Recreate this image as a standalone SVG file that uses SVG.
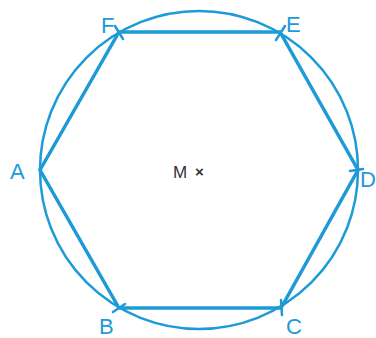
<svg xmlns="http://www.w3.org/2000/svg" width="376" height="338" viewBox="0 0 376 338">
<style>
.lbl{font-family:"Liberation Sans",Arial,sans-serif;font-size:22px;fill:#1e9ad8}
.c{fill:none;stroke:#1e9ad8;stroke-width:2.5}
.h{fill:none;stroke:#1e9ad8;stroke-width:3.5;stroke-linejoin:miter}
.t{stroke:#1e9ad8;stroke-width:2.5;stroke-linecap:round}
</style>
<rect width="376" height="338" fill="#ffffff"/>
<g id="circle"><circle class="c" cx="199" cy="170" r="159"/></g>
<g id="connectors">
<polygon class="h" points="40,170 119,32 280,32 358,170 281,308 119,308"/>
<line class="t" x1="115" y1="26" x2="123" y2="39"/>
<line class="t" x1="285" y1="26" x2="276" y2="40"/>
<line class="t" x1="350" y1="171" x2="363" y2="169"/>
<line class="t" x1="113" y1="312" x2="125" y2="304"/>
<line class="t" x1="281" y1="300" x2="282" y2="315"/>
</g>
<g id="A"><text class="lbl" x="10" y="179">A</text></g>
<g id="F"><text class="lbl" x="101" y="33">F</text></g>
<g id="E"><text class="lbl" x="286" y="32">E</text></g>
<g id="D"><text class="lbl" x="360" y="187" font-size="20">D</text></g>
<g id="C"><text class="lbl" x="286" y="334" font-size="21">C</text></g>
<g id="B"><text class="lbl" x="99" y="334">B</text></g>
<g id="M"><text x="173" y="178" font-family="Liberation Sans,Arial,sans-serif" font-size="17" fill="#333333">M</text><text x="195" y="177" font-family="Liberation Sans,Arial,sans-serif" font-size="15" font-weight="bold" fill="#333333">×</text></g>
</svg>
